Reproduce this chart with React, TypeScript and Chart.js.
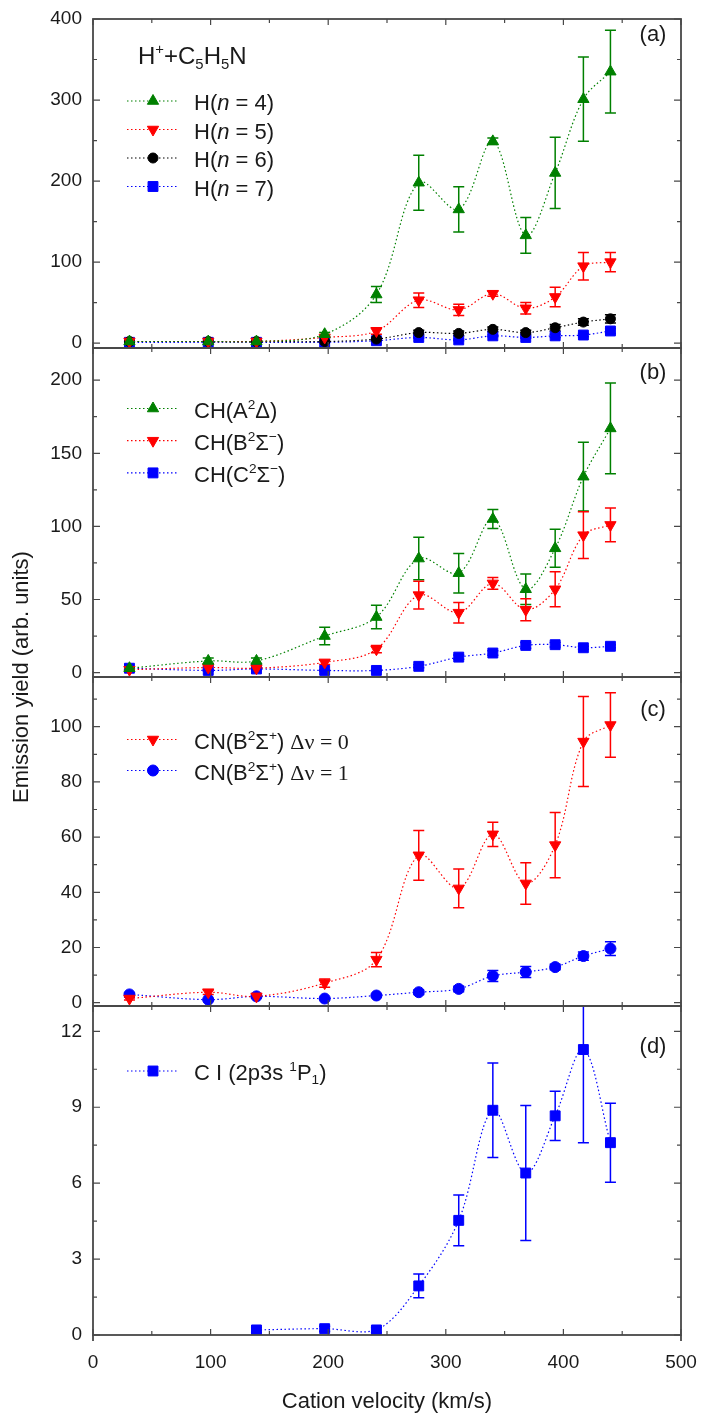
import React, { useEffect, useRef } from 'react';
import { Chart, registerables } from 'chart.js';

Chart.register(...registerables);

// ---------------- data ----------------
const VELOCITY = [31, 98, 139, 197, 241, 277, 311, 340, 368, 393, 417, 440];
const CI_VELOCITY = [139, 197, 241, 277, 311, 340, 368, 393, 417, 440];

// (a) H Balmer lines
const H4 = [2, 2, 2, 11, 60, 198, 165, 249, 133, 210, 301, 335];
const H4_ERR = [0, 0, 0, 2, 10, 34, 28, 4, 22, 44, 52, 51];
const H5 = [2, 2, 2, 7, 15, 53, 41, 61, 43, 57, 95, 100];
const H5_ERR = [0, 0, 0, 1, 4, 9, 7, 3, 7, 12, 17, 12];
const H6 = [2, 2, 2, 2, 5, 13, 12, 17, 13, 19, 26, 30];
const H6_ERR = [0, 0, 0, 0, 1, 3, 3, 3, 3, 4, 4, 5];
const H7 = [1, 1, 1, 1, 3, 7, 4, 9, 7, 9, 10, 15];
const H7_ERR = [0, 0, 0, 0, 1, 1, 1, 1, 1, 2, 2, 3];

// (b) CH
const CH_A = [3, 8, 8, 25, 38, 78, 68, 105, 57, 85, 134, 167];
const CH_A_ERR = [1, 2, 2, 6, 8, 14.5, 13.5, 6.5, 10.5, 13, 23.5, 31];
const CH_B = [2, 3.5, 3, 7, 16, 53, 41, 61, 43, 57, 94, 101];
const CH_B_ERR = [0.5, 1, 1, 1.5, 2.5, 9.5, 7, 4, 7.5, 12, 16, 11.5];
const CH_C = [3, 1.5, 2.5, 1.5, 1.5, 4.3, 10.6, 13.4, 18.6, 19.1, 17, 18];
const CH_C_ERR = [1, 0.5, 0.5, 0.5, 0.5, 1, 1.5, 1.5, 2, 1.5, 1, 1];

// (c) CN
const CN0 = [1.5, 3.8, 2.3, 7.1, 15.6, 53.4, 41.4, 61, 43.2, 57.1, 94.6, 100.6];
const CN0_ERR = [0.5, 0.8, 0.6, 1.5, 2.6, 9, 7, 4.4, 7.5, 11.8, 16.3, 11.7];
const CN1 = [3, 1.1, 2.3, 1.5, 2.6, 3.8, 5, 9.7, 11.1, 12.9, 16.9, 19.6];
const CN1_ERR = [0.5, 0.3, 0.5, 0.4, 0.5, 0.8, 1, 2, 2, 1, 1.5, 2.5];

// (d) C I
const CI = [0.2, 0.25, 0.2, 1.94, 4.53, 8.88, 6.4, 8.66, 11.28, 7.6];
const CI_ERR = [0.1, 0.1, 0.1, 0.47, 1, 1.87, 2.67, 0.97, 3.68, 1.56];

// ticks
const X_TICKS = [0, 100, 200, 300, 400, 500];
const A_TICKS = [0, 100, 200, 300, 400];
const B_TICKS = [0, 50, 100, 150, 200];
const C_TICKS = [0, 20, 40, 60, 80, 100];
const D_TICKS = [0, 3, 6, 9, 12];

const X_TITLE = 'Cation velocity (km/s)';
const Y_TITLE = 'Emission yield (arb. units)';

type Seg = { t: string; sup?: boolean; sub?: boolean; it?: boolean; serif?: boolean };

const TITLE_A: Seg[] = [
  { t: 'H' }, { t: '+', sup: true }, { t: '+C' }, { t: '5', sub: true },
  { t: 'H' }, { t: '5', sub: true }, { t: 'N' },
];

const RICH: Record<string, Seg[]> = {
  'H(n = 4)': [{ t: 'H(' }, { t: 'n', it: true }, { t: ' = 4)' }],
  'H(n = 5)': [{ t: 'H(' }, { t: 'n', it: true }, { t: ' = 5)' }],
  'H(n = 6)': [{ t: 'H(' }, { t: 'n', it: true }, { t: ' = 6)' }],
  'H(n = 7)': [{ t: 'H(' }, { t: 'n', it: true }, { t: ' = 7)' }],
  'CH(A2Δ)': [{ t: 'CH(A' }, { t: '2', sup: true }, { t: 'Δ)' }],
  'CH(B2Σ-)': [{ t: 'CH(B' }, { t: '2', sup: true }, { t: 'Σ' }, { t: '−', sup: true }, { t: ')' }],
  'CH(C2Σ-)': [{ t: 'CH(C' }, { t: '2', sup: true }, { t: 'Σ' }, { t: '−', sup: true }, { t: ')' }],
  'CN dv0': [{ t: 'CN(B' }, { t: '2', sup: true }, { t: 'Σ' }, { t: '+', sup: true }, { t: ') ' }, { t: 'Δν = 0', serif: true }],
  'CN dv1': [{ t: 'CN(B' }, { t: '2', sup: true }, { t: 'Σ' }, { t: '+', sup: true }, { t: ') ' }, { t: 'Δν = 1', serif: true }],
  'C I': [{ t: 'C I (2p3s ' }, { t: '1', sup: true }, { t: 'P' }, { t: '1', sub: true }, { t: ')' }],
};

// ---------------- styling / layout ----------------
const SANS = "'Liberation Sans', Arial, sans-serif";
const SERIF = "'Liberation Serif', 'Times New Roman', serif";
const GREEN = 'rgb(0,128,0)';
const RED = 'rgb(255,0,0)';
const BLACK = 'rgb(0,0,0)';
const BLUE = 'rgb(0,0,255)';
const FRAME = '#484848';
const TEXT = '#1a1a1a';

const PANELS = [
  { axis: 'ya', tag: '(a)', tagY: 35, rowY: 101, rowStep: 28.5 },
  { axis: 'yb', tag: '(b)', tagY: 373, rowY: 408.5, rowStep: 32.2 },
  { axis: 'yc', tag: '(c)', tagY: 710, rowY: 739.5, rowStep: 31 },
  { axis: 'yd', tag: '(d)', tagY: 1047, rowY: 1071, rowStep: 30 },
];

function ds(label: string, xs: number[], ys: number[], errs: number[], color: string,
  style: string, yAxisID: string, radius: number, rotation = 0) {
  return {
    label,
    data: xs.map((x, i) => ({ x, y: ys[i] })),
    errors: errs,
    yAxisID,
    xAxisID: 'x',
    borderColor: color,
    backgroundColor: color,
    borderWidth: 1.2,
    borderDash: [1.5, 2.5],
    pointStyle: style,
    pointRotation: rotation,
    pointRadius: radius,
    pointBorderWidth: 1,
    pointBorderColor: color,
    pointBackgroundColor: color,
    tension: 0.35,
    fill: false,
  };
}

function drawMarker(ctx: CanvasRenderingContext2D, style: string, x: number, y: number,
  r: number, rot: number, color: string) {
  ctx.save();
  ctx.fillStyle = color;
  ctx.strokeStyle = color;
  ctx.lineWidth = 1;
  ctx.setLineDash([]);
  ctx.beginPath();
  if (style === 'circle') {
    ctx.arc(x, y, r, 0, Math.PI * 2);
  } else if (style === 'rect') {
    const s = r * Math.SQRT1_2;
    ctx.rect(x - s, y - s, 2 * s, 2 * s);
  } else {
    let a = (rot * Math.PI) / 180;
    for (let k = 0; k < 3; k++) {
      const px = x + Math.sin(a) * r;
      const py = y - Math.cos(a) * r;
      if (k === 0) ctx.moveTo(px, py); else ctx.lineTo(px, py);
      a += (2 * Math.PI) / 3;
    }
    ctx.closePath();
  }
  ctx.fill();
  ctx.stroke();
  ctx.restore();
}

function drawRich(ctx: CanvasRenderingContext2D, segs: Seg[], x: number, baseline: number, size: number) {
  let cx = x;
  ctx.textAlign = 'left';
  ctx.textBaseline = 'alphabetic';
  for (const s of segs) {
    const small = s.sup || s.sub;
    const sz = small ? size * 0.62 : size;
    const dy = s.sup ? -size * 0.4 : s.sub ? size * 0.2 : 0;
    ctx.font = `${s.it ? 'italic ' : ''}${sz}px ${s.serif ? SERIF : SANS}`;
    ctx.fillText(s.t, cx, baseline + dy);
    cx += ctx.measureText(s.t).width;
  }
}

const errorBars = {
  id: 'errorBars',
  beforeDatasetsDraw(chart: any) {
    const ctx = chart.ctx;
    const xs = chart.scales.x;
    chart.data.datasets.forEach((d: any) => {
      const ys = chart.scales[d.yAxisID];
      ctx.save();
      ctx.beginPath();
      ctx.rect(xs.left, ys.top, xs.right - xs.left, ys.bottom - ys.top);
      ctx.clip();
      ctx.strokeStyle = d.borderColor;
      ctx.lineWidth = 1.5;
      ctx.setLineDash([]);
      d.data.forEach((p: any, i: number) => {
        const e = d.errors[i];
        if (!e) return;
        const px = xs.getPixelForValue(p.x);
        const y1 = ys.getPixelForValue(p.y + e);
        const y2 = ys.getPixelForValue(p.y - e);
        ctx.beginPath();
        ctx.moveTo(px, y1); ctx.lineTo(px, y2);
        ctx.moveTo(px - 5.5, y1); ctx.lineTo(px + 5.5, y1);
        ctx.moveTo(px - 5.5, y2); ctx.lineTo(px + 5.5, y2);
        ctx.stroke();
      });
      ctx.restore();
    });
  },
};

const frames = {
  id: 'frames',
  afterDatasetsDraw(chart: any) {
    const ctx = chart.ctx;
    const xs = chart.scales.x;
    ctx.save();
    ctx.strokeStyle = FRAME;
    ctx.setLineDash([]);
    for (const p of PANELS) {
      const ys = chart.scales[p.axis];
      ctx.lineWidth = 1.2;
      ctx.beginPath();
      const yt = ys.ticks.map((t: any) => t.value);
      const ystep = yt[1] - yt[0];
      for (const v of yt) {
        const py = ys.getPixelForValue(v);
        ctx.moveTo(xs.left, py); ctx.lineTo(xs.left + 7, py);
        ctx.moveTo(xs.right, py); ctx.lineTo(xs.right - 7, py);
      }
      for (let v = yt[0] - ystep / 2; v <= ys.max; v += ystep) {
        if (v < ys.min) continue;
        const py = ys.getPixelForValue(v);
        ctx.moveTo(xs.left, py); ctx.lineTo(xs.left + 4, py);
        ctx.moveTo(xs.right, py); ctx.lineTo(xs.right - 4, py);
      }
      const xt = xs.ticks.map((t: any) => t.value);
      const xstep = xt[1] - xt[0];
      for (const v of xt) {
        const px = xs.getPixelForValue(v);
        ctx.moveTo(px, ys.top); ctx.lineTo(px, ys.top + 6);
        ctx.moveTo(px, ys.bottom); ctx.lineTo(px, ys.bottom - 6);
      }
      for (let v = xt[0] + xstep / 2; v < xs.max; v += xstep) {
        const px = xs.getPixelForValue(v);
        ctx.moveTo(px, ys.top); ctx.lineTo(px, ys.top + 4);
        ctx.moveTo(px, ys.bottom); ctx.lineTo(px, ys.bottom - 4);
      }
      ctx.stroke();
      ctx.lineWidth = 1.8;
      ctx.strokeRect(xs.left, ys.top, xs.right - xs.left, ys.bottom - ys.top);
    }
    // short outward extensions of the vertical frame lines below the x axis
    const bottom = chart.scales.yd.bottom;
    ctx.lineWidth = 1.8;
    ctx.beginPath();
    ctx.moveTo(xs.left, bottom); ctx.lineTo(xs.left, bottom + 6);
    ctx.moveTo(xs.right, bottom); ctx.lineTo(xs.right, bottom + 6);
    ctx.stroke();
    ctx.restore();
  },
};

const annotations = {
  id: 'annotations',
  afterDraw(chart: any) {
    const ctx = chart.ctx;
    ctx.save();
    ctx.fillStyle = TEXT;
    for (const p of PANELS) {
      ctx.font = `22px ${SANS}`;
      ctx.textAlign = 'center';
      ctx.textBaseline = 'middle';
      ctx.fillText(p.tag, 653, p.tagY);
      const sets = chart.data.datasets.filter((d: any) => d.yAxisID === p.axis);
      sets.forEach((d: any, i: number) => {
        const y = p.rowY + i * p.rowStep;
        ctx.save();
        ctx.strokeStyle = d.borderColor;
        ctx.lineWidth = 1.2;
        ctx.setLineDash([1.5, 2.5]);
        ctx.beginPath();
        ctx.moveTo(127, y); ctx.lineTo(178, y);
        ctx.stroke();
        ctx.restore();
        drawMarker(ctx, d.pointStyle, 153, y, d.pointRadius, d.pointRotation, d.borderColor);
        ctx.fillStyle = TEXT;
        drawRich(ctx, RICH[d.label], 194, y + 9, 22);
      });
    }
    drawRich(ctx, TITLE_A, 138, 64, 24);
    const ca = chart.chartArea;
    ctx.translate(22, (ca.top + ca.bottom) / 2);
    ctx.rotate(-Math.PI / 2);
    ctx.font = `22px ${SANS}`;
    ctx.textAlign = 'center';
    ctx.textBaseline = 'middle';
    ctx.fillText(Y_TITLE, 0, 0);
    ctx.restore();
  },
};

function yAxis(ticks: number[], min: number, max: number, weight: number) {
  return {
    type: 'linear',
    position: 'left',
    stack: 'panels',
    stackWeight: 1,
    weight,
    min,
    max,
    grid: { display: false, drawTicks: false },
    border: { display: false },
    afterBuildTicks: (scale: any) => { scale.ticks = ticks.map((v) => ({ value: v })); },
    afterFit: (scale: any) => { scale.width = 93; scale.paddingTop = 0; scale.paddingBottom = 0; },
    ticks: {
      autoSkip: false,
      padding: 11,
      color: TEXT,
      font: { family: SANS, size: 19 },
      callback: (v: any) => String(v),
    },
  };
}

export default function App() {
  const ref = useRef<HTMLCanvasElement>(null);
  useEffect(() => {
    const datasets = [
      ds('H(n = 4)', VELOCITY, H4, H4_ERR, GREEN, 'triangle', 'ya', 6.5),
      ds('H(n = 5)', VELOCITY, H5, H5_ERR, RED, 'triangle', 'ya', 6.5, 180),
      ds('H(n = 6)', VELOCITY, H6, H6_ERR, BLACK, 'circle', 'ya', 5),
      ds('H(n = 7)', VELOCITY, H7, H7_ERR, BLUE, 'rect', 'ya', 7),
      ds('CH(A2Δ)', VELOCITY, CH_A, CH_A_ERR, GREEN, 'triangle', 'yb', 6.5),
      ds('CH(B2Σ-)', VELOCITY, CH_B, CH_B_ERR, RED, 'triangle', 'yb', 6.5, 180),
      ds('CH(C2Σ-)', VELOCITY, CH_C, CH_C_ERR, BLUE, 'rect', 'yb', 7),
      ds('CN dv0', VELOCITY, CN0, CN0_ERR, RED, 'triangle', 'yc', 6.5, 180),
      ds('CN dv1', VELOCITY, CN1, CN1_ERR, BLUE, 'circle', 'yc', 5.5),
      ds('C I', CI_VELOCITY, CI, CI_ERR, BLUE, 'rect', 'yd', 7),
    ];
    const chart = new Chart(ref.current as HTMLCanvasElement, {
      type: 'line',
      data: { datasets } as any,
      options: {
        responsive: false,
        animation: false,
        devicePixelRatio: 1,
        layout: { padding: { left: 0, right: 21, top: 19, bottom: 0 } },
        plugins: { legend: { display: false }, tooltip: { enabled: false } },
        scales: {
          x: {
            type: 'linear',
            position: 'bottom',
            min: 0,
            max: 500,
            grid: { display: false, drawTicks: false },
            border: { display: false },
            afterBuildTicks: (scale: any) => { scale.ticks = X_TICKS.map((v) => ({ value: v })); },
            afterFit: (scale: any) => { scale.height = 81; scale.paddingLeft = 0; scale.paddingRight = 0; },
            ticks: {
              autoSkip: false,
              maxRotation: 0,
              padding: 16,
              color: TEXT,
              font: { family: SANS, size: 19 },
              callback: (v: any) => String(v),
            },
            title: {
              display: true,
              text: X_TITLE,
              color: TEXT,
              font: { family: SANS, size: 22 },
              padding: { top: 0, bottom: 1 },
            },
          },
          ya: yAxis(A_TICKS, -6, 400, 4),
          yb: yAxis(B_TICKS, -3, 222, 3),
          yc: yAxis(C_TICKS, -1.2, 118, 2),
          yd: yAxis(D_TICKS, 0, 13, 1),
        } as any,
      },
      plugins: [errorBars, frames, annotations],
    } as any);
    return () => chart.destroy();
  }, []);
  return (
    <div style={{ position: 'absolute', left: 0, top: 0, width: 702, height: 1416, background: '#fff' }}>
      <canvas ref={ref} width={702} height={1416} style={{ display: 'block', width: 702, height: 1416 }} />
    </div>
  );
}
